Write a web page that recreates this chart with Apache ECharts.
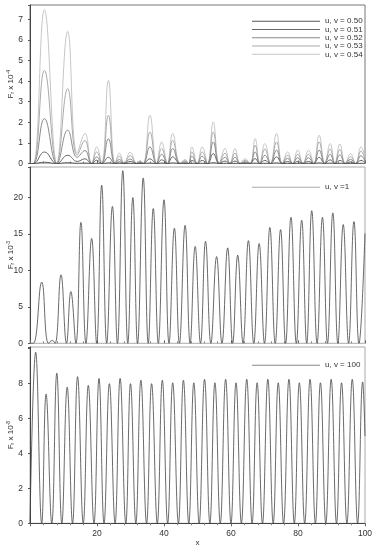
<!DOCTYPE html>
<html>
<head>
<meta charset="utf-8">
<script src="https://cdn.jsdelivr.net/npm/echarts@6/dist/echarts.min.js"></script>
<style>
html, body { margin: 0; padding: 0; background: #fff; }
#main { width: 374px; height: 547px; }
</style>
</head>
<body>
<div id="main"></div>
<script>
// top panel: five curves, x positions shared (peaks and zeros)
var x1 = [0, 1.0, 4.3, 8.0, 11.25, 14.1, 16.4, 18.4, 19.9, 21.4, 23.4, 25.4, 26.7, 28.1, 29.9, 31.9, 32.8, 33.8, 35.8, 37.8,
	39.3, 41.0, 42.6, 44.8, 46.3, 47.3, 48.3, 49.9, 51.4, 53.0, 54.7, 56.5, 58.2, 59.7, 61.2, 62.7, 64.2, 65.7, 67.2, 68.6,
	70.1, 71.8, 73.6, 75.3, 76.9, 78.4, 79.9, 81.5, 83.1, 84.7, 86.3, 88.0, 89.6, 91.0, 92.5, 94.1, 95.7, 97.2, 98.8, 100];
var v054 = [0, 0, 7.47, 0, 6.42, 0.5, 1.46, 0, 0.81, 0, 4.04, 0, 0.5, 0, 0.55, 0, 0.15, 0, 2.34, 0,
	1.05, 0, 1.46, 0, 0.2, 0, 0.81, 0, 0.81, 0, 2.02, 0, 0.73, 0, 0.73, 0, 0.23, 0, 1.21, 0,
	0.97, 0, 1.46, 0, 0.56, 0, 0.65, 0, 0.65, 0, 1.37, 0, 0.97, 0, 0.95, 0, 0.48, 0, 0.81, 0.3];
var v053 = [0, 0, 4.53, 0, 3.64, 0.4, 1.12, 0, 0.56, 0, 2.34, 0, 0.35, 0, 0.38, 0, 0.1, 0, 1.53, 0,
	0.73, 0, 1.13, 0, 0.14, 0, 0.56, 0, 0.56, 0, 1.53, 0, 0.5, 0, 0.5, 0, 0.15, 0, 0.89, 0,
	0.7, 0, 1.05, 0, 0.4, 0, 0.45, 0, 0.45, 0, 1.05, 0, 0.7, 0, 0.68, 0, 0.33, 0, 0.6, 0.2];
var v052 = [0, 0, 2.18, 0, 1.62, 0.3, 0.63, 0, 0.32, 0, 1.2, 0, 0.2, 0, 0.22, 0, 0.06, 0, 0.81, 0,
	0.45, 0, 0.73, 0, 0.08, 0, 0.35, 0, 0.35, 0, 1.05, 0, 0.3, 0, 0.3, 0, 0.08, 0, 0.56, 0,
	0.4, 0, 0.65, 0, 0.25, 0, 0.28, 0, 0.28, 0, 0.65, 0, 0.45, 0, 0.42, 0, 0.2, 0, 0.38, 0.12];
var v051 = [0, 0, 0.56, 0, 0.40, 0.1, 0.23, 0, 0.16, 0, 0.3, 0, 0.08, 0, 0.1, 0, 0.03, 0, 0.23, 0,
	0.18, 0, 0.32, 0, 0.03, 0, 0.15, 0, 0.15, 0, 0.48, 0, 0.12, 0, 0.12, 0, 0.03, 0, 0.24, 0,
	0.15, 0, 0.32, 0, 0.1, 0, 0.1, 0, 0.1, 0, 0.3, 0, 0.18, 0, 0.15, 0, 0.08, 0, 0.15, 0.05];
var v050 = [0, 0, 0.06, 0, 0.04, 0.01, 0.02, 0, 0.01, 0, 0.03, 0, 0.01, 0, 0.01, 0, 0, 0, 0.02, 0,
	0.02, 0, 0.03, 0, 0, 0, 0.01, 0, 0.01, 0, 0.04, 0, 0.01, 0, 0.01, 0, 0, 0, 0.02, 0,
	0.01, 0, 0.03, 0, 0.01, 0, 0.01, 0, 0.01, 0, 0.03, 0, 0.02, 0, 0.01, 0, 0.01, 0, 0.01, 0];
var names1 = ['u, v = 0.50', 'u, v = 0.51', 'u, v = 0.52', 'u, v = 0.53', 'u, v = 0.54'];

// middle panel, u, v = 1
var x2 = [0, 1.0, 3.5, 5.5, 6.7, 7.5, 9.25, 10.9, 12.2, 13.7, 15.2, 16.7, 18.4, 19.9, 21.4, 22.9, 24.6, 26.1, 27.7, 29.2,
	30.7, 32.1, 33.8, 35.3, 36.8, 38.3, 40.0, 41.5, 43.1, 44.6, 46.3, 47.8, 49.3, 50.9, 52.4, 54.0, 55.7, 57.3, 59.0, 60.5,
	62.0, 63.6, 65.2, 66.8, 68.4, 70.0, 71.6, 73.2, 74.8, 76.3, 77.9, 79.5, 81.1, 82.6, 84.1, 85.7, 87.3, 88.8, 90.4, 91.9,
	93.5, 95.1, 96.7, 98.2, 100];
var v1 = [0, 0, 8.4, 0, 0.4, 0, 9.4, 0, 7.1, 0, 16.6, 0, 14.4, 0, 21.7, 0, 18.8, 0, 23.7, 0,
	20.0, 0, 22.7, 0, 18.5, 0, 19.7, 0, 15.8, 0, 16.2, 0, 13.3, 0, 14.0, 0, 11.9, 0, 13.1, 0,
	12.1, 0, 14.1, 0, 13.7, 0, 15.9, 0, 15.6, 0, 17.3, 0, 16.9, 0, 18.2, 0, 17.3, 0, 17.9, 0,
	16.3, 0, 16.7, 0, 15.1];

// bottom panel, u, v = 100
var x3 = [0, 1.7, 3.5, 4.8, 6.5, 8.0, 9.5, 11.1, 12.7, 14.2, 15.9, 17.4, 19.1, 20.6, 22.1, 23.7, 25.4, 26.9, 28.6, 30.0,
	31.6, 33.1, 34.8, 36.3, 38.0, 39.5, 41.1, 42.6, 44.3, 45.8, 47.4, 48.9, 50.5, 52.1, 53.7, 55.2, 56.8, 58.4, 60.0, 61.5,
	63.1, 64.7, 66.3, 67.8, 69.4, 71.0, 72.6, 74.1, 75.7, 77.3, 78.9, 80.4, 82.0, 83.6, 85.2, 86.7, 88.3, 89.9, 91.5, 93.0,
	94.6, 96.2, 97.8, 99.3, 100];
var v100 = [0, 9.8, 0, 7.4, 0, 8.6, 0, 7.8, 0, 8.4, 0, 7.9, 0, 8.3, 0, 8.0, 0, 8.3, 0, 8.0,
	0, 8.2, 0, 8.0, 0, 8.2, 0, 8.05, 0, 8.2, 0, 8.05, 0, 8.25, 0, 8.05, 0, 8.25, 0, 8.05,
	0, 8.25, 0, 8.05, 0, 8.25, 0, 8.05, 0, 8.25, 0, 8.05, 0, 8.25, 0, 8.05, 0, 8.25, 0, 8.05,
	0, 8.25, 0, 8.1, 5.0];

function pairs(xs, ys) {
	var out = [];
	for (var i = 0; i < xs.length; i++) out.push([xs[i], ys[i]]);
	return out;
}

var chart = echarts.init(document.getElementById('main'));
var font = 'Liberation Sans, Arial, sans-serif';
var colors1 = ['#555', '#666', '#8a8a8a', '#aaa', '#c6c6c6'];

function yName(exp) {
	return '{a|F}{s|r}{a| x 10}{p|' + exp + '}';
}
var nameRich = {
	a: { fontSize: 8, color: '#333', fontFamily: font },
	s: { fontSize: 5, color: '#333', fontFamily: font, verticalAlign: 'bottom', padding: [3, 0, 0, 0] },
	p: { fontSize: 5, color: '#333', fontFamily: font, verticalAlign: 'top', padding: [0, 0, 4, 0] }
};

function xAx(gi, showLabels) {
	return {
		type: 'value', gridIndex: gi, min: 0, max: 100, interval: 20,
		name: showLabels ? 'x' : '', nameLocation: 'middle', nameGap: 15, nameMoveOverlap: false,
		nameTextStyle: { fontSize: 8, color: '#333', fontFamily: font },
		axisLine: { show: true, onZero: false, lineStyle: { color: showLabels ? '#444' : '#bbb', width: 1 } },
		axisTick: { show: true, inside: !showLabels, length: 3, lineStyle: { color: '#666' } },
		minorTick: { show: true, splitNumber: 5, length: 2, lineStyle: { color: '#888' } },
		axisLabel: {
			show: showLabels, fontSize: 8.5, color: '#333', fontFamily: font, margin: 6,
			formatter: function (v) { return v === 0 ? '' : v; }
		},
		splitLine: { show: false }
	};
}
function yAx(gi, max, interval, exp, lastLabel) {
	return {
		type: 'value', gridIndex: gi, min: 0, max: max, interval: interval,
		name: yName(exp), nameLocation: 'middle', nameGap: 15, nameRotate: 90, nameMoveOverlap: false,
		nameTextStyle: { rich: nameRich },
		axisLine: { show: true, lineStyle: { color: '#444', width: 1 } },
		axisTick: { show: true, length: 2, lineStyle: { color: '#555' } },
		axisLabel: {
			fontSize: 8.5, color: '#333', fontFamily: font, margin: 7,
			formatter: function (v) {
				var onTick = Math.abs(v / interval - Math.round(v / interval)) < 1e-6;
				return (onTick && v <= lastLabel) ? v : '';
			}
		},
		splitLine: { show: false }
	};
}

var series = [];
var v1list = [v050, v051, v052, v053, v054];
for (var i = 0; i < 5; i++) {
	series.push({
		name: names1[i], type: 'line', xAxisIndex: 0, yAxisIndex: 0,
		data: pairs(x1, v1list[i]), smooth: 0.45, symbol: 'none',
		lineStyle: { color: colors1[i], width: 1 }, itemStyle: { color: colors1[i] },
		z: 10 - i
	});
}
series.push({
	name: 'u, v =1', type: 'line', xAxisIndex: 1, yAxisIndex: 1,
	data: pairs(x2, v1), smooth: 0.45, symbol: 'none',
	lineStyle: { color: '#444', width: 0.8 }, itemStyle: { color: '#444' }
});
series.push({
	name: 'u, v = 100', type: 'line', xAxisIndex: 2, yAxisIndex: 2,
	data: pairs(x3, v100), smooth: 0.45, symbol: 'none',
	lineStyle: { color: '#444', width: 0.8 }, itemStyle: { color: '#444' }
});

function legendAt(top, data, fixedColor) {
	var lg = {
		data: data, orient: 'vertical', left: 247, top: top,
		icon: 'rect', itemWidth: 68, itemHeight: 1, itemGap: 0,
		textStyle: { fontSize: 8, lineHeight: 8.3, color: '#333', fontFamily: font },
		selectedMode: false
	};
	if (fixedColor) lg.itemStyle = { color: fixedColor };
	return lg;
}

var gridBase = { left: 30, right: 9, show: true, borderWidth: 1, containLabel: false, outerBoundsMode: 'none' };
var option = {
	backgroundColor: '#fff',
	animation: false,
	grid: [
		Object.assign({}, gridBase, { top: 5, height: 158.5, borderColor: '#777' }),
		Object.assign({}, gridBase, { top: 167, height: 176.3, borderColor: '#aaa' }),
		Object.assign({}, gridBase, { top: 347, height: 176.3, borderColor: '#aaa' })
	],
	xAxis: [xAx(0, false), xAx(1, false), xAx(2, true)],
	yAxis: [yAx(0, 7.7, 1, '-4', 7), yAx(1, 24.2, 5, '-3', 20), yAx(2, 10.1, 2, '-8', 8)],
	legend: [
		legendAt(12, names1, null),
		legendAt(178, ['u, v =1'], '#aaa'),
		legendAt(356, ['u, v = 100'], '#888')
	],
	series: series
};
chart.setOption(option);
</script>
</body>
</html>
